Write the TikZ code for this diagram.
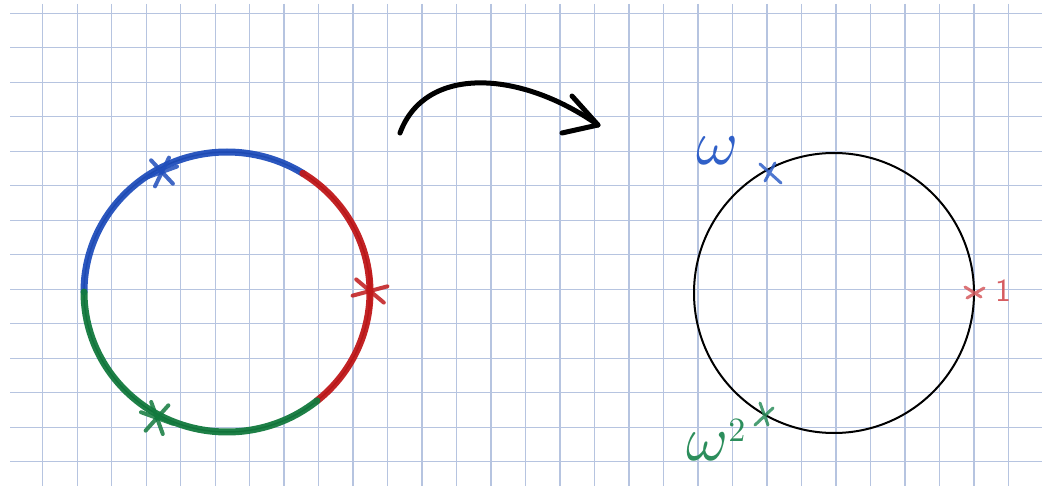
\documentclass[tikz,border=0pt]{standalone}
\usepackage{graphicx}
\usepackage{amsmath}
\definecolor{gridblue}{RGB}{182,196,224}
\definecolor{penblue}{RGB}{32,78,188}
\definecolor{penred}{RGB}{192,24,26}
\definecolor{pengreen}{RGB}{18,122,62}
\definecolor{inkblue}{RGB}{48,96,200}
\definecolor{inkred}{RGB}{214,92,96}
\definecolor{inkgreen}{RGB}{44,142,92}
\tikzset{
  gridline/.style={gridblue,line width=1.3},
  thick pen/.style={line width=7,line cap=round,opacity=.95},
  mark pen/.style={line width=4,line cap=round,opacity=.85},
  thin pen/.style={line width=3,line cap=round,opacity=.85},
  marker/.style={line width=5,line cap=round,line join=round},
}
\begin{document}
\begin{tikzpicture}[x=1pt,y=1pt]
    \clip (0,-486) rectangle (1042,0);
    \fill[white] (0,-486) rectangle (1042,0);
    % squared paper
    \foreach \k in {0,...,29}
        \draw[gridline] ({42.7+34.49*\k},-4) -- ++(0,-482);
    \foreach \k in {0,...,13}
        \draw[gridline] (10,{-13.3-34.49*\k}) -- (1042,{-13.3-34.49*\k});
    % left circle, coloured in three parts
    \coordinate (lc) at (227,-292);
    \draw[line width=1.5] (lc) ellipse[x radius=143,y radius=140];
    \draw[thick pen,penblue] ([shift={(180:143 and 140)}]lc)
          arc[start angle=180,end angle=58,x radius=143,y radius=140];
    \draw[thick pen,penred] ([shift={(58:143 and 140)}]lc)
          arc[start angle=58,end angle=-51,x radius=143,y radius=140];
    \draw[thick pen,pengreen] ([shift={(-51:143 and 140)}]lc)
          arc[start angle=-51,end angle=-180,x radius=143,y radius=140];
    % stars on the left circle
    \coordinate (sb) at (162,-172);
    \coordinate (sr) at (370,-291);
    \coordinate (sg) at (157,-418);
    \foreach \a in {-47,64,20}
        \draw[mark pen,penblue] (sb) ++(\a:16) -- ++(\a+180:32);
    \foreach \a in {-40,15,90}
        \draw[mark pen,penred] (sr) ++(\a:18) -- ++(\a+180:36);
    \foreach \a in {-70,48,-20}
        \draw[mark pen,pengreen] (sg) ++(\a:17) -- ++(\a+180:34);
    % the arrow
    \coordinate (from) at (400,-133);
    \coordinate (to) at (598,-125);
    \draw[marker] (from) .. controls (425,-65) and (520,-70) .. (to);
    \draw[marker] (572,-96) -- (to) -- (562,-133); % arrow head
    % right circle with the three roots
    \coordinate (rc) at (834,-293);
    \draw[line width=2] (rc) circle[radius=140];
    \coordinate (xb) at (770,-172);
    \coordinate (xr) at (974,-292);
    \coordinate (xg) at (765,-413);
    \draw[thin pen,inkblue] (xb) ++(-10,8) -- ++(21,-19) (xb) ++(5,9) -- ++(-10,-18);
    \draw[thin pen,inkred] (xr) ++(-9,5) -- ++(16,-10) (xr) ++(10,4) -- ++(-17,-10);
    \draw[thin pen,inkgreen] (xg) ++(-5,10) -- ++(8,-22) (xg) ++(-10,-12) -- ++(18,17);
    \node[inkblue,anchor=base west,inner sep=0pt]
        (w) at (696,-165) {\scalebox{6.4}{$\omega$}};
    \node[inkred,anchor=base,inner sep=0pt]
        (one) at (1003,-302) {\scalebox{3.2}{\sffamily 1}};
    \node[inkgreen,anchor=base west,inner sep=0pt]
        (wsq) at (686,-460) {\scalebox{6.4}{$\omega$}\raisebox{18pt}{\scalebox{3.4}{2}}};
\end{tikzpicture}
\end{document}
